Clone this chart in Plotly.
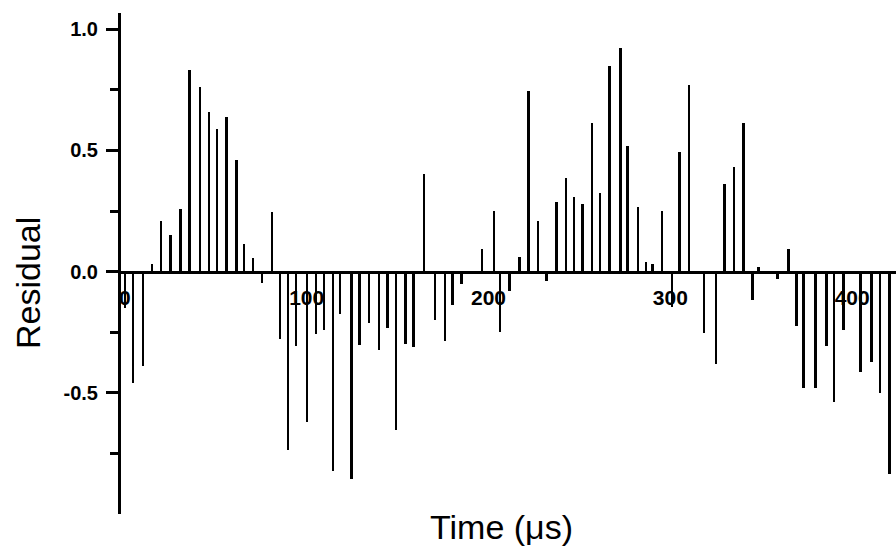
import plotly.graph_objects as go

# Time (µs) of each residual point
time_us = [0, 4.4, 9.9, 14.9, 20.0, 25.0, 30.6, 35.6, 41.3, 46.4, 50.8, 55.9, 61.4, 65.5,
           70.6, 75.4, 80.9, 85.4, 89.7, 94.2, 100.3, 105.2, 109.5, 114.4, 118.4, 124.6,
           129.0, 134.4, 139.7, 144.4, 149.2, 154.5, 158.7, 164.6, 170.6, 176.0, 180.2,
           185.3, 196.5, 202.9, 206.4, 211.5, 217.0, 222.1, 227.1, 232.0, 237.3, 242.5,
           247.1, 251.6, 256.8, 261.4, 266.5, 272.7, 276.4, 282.1, 286.6, 290.3, 295.3,
           300.8, 305.0, 310.3, 318.5, 325.1, 329.9, 334.9, 340.1, 345.3, 348.4, 359.0,
           364.9, 369.5, 373.3, 379.9, 386.0, 390.0, 395.3, 404.5, 410.5, 415.3, 420.6]

# Residual values
residual = [-0.15, -0.46, -0.39, 0.03, 0.21, 0.15, 0.26, 0.83, 0.76, 0.66, 0.59, 0.64, 0.46,
            0.115, 0.058, -0.045, 0.246, -0.276, -0.736, -0.306, -0.619, -0.259, -0.242,
            -0.822, -0.176, -0.857, -0.303, -0.21, -0.324, -0.232, -0.654, -0.297, -0.313,
            0.401, -0.2, -0.286, -0.139, -0.049, 0.095, 0.251, -0.251, -0.08, 0.059, 0.746,
            0.208, -0.04, 0.286, 0.385, 0.309, 0.28, 0.614, 0.323, 0.85, 0.922, 0.519, 0.267,
            0.039, 0.03, 0.249, -0.145, 0.492, 0.769, -0.253, -0.382, 0.363, 0.43, 0.615,
            -0.118, 0.02, -0.03, 0.092, -0.225, -0.479, -0.479, -0.306, -0.537, -0.242,
            -0.413, -0.372, -0.5, -0.835]

x_tick_vals = [0, 100, 200, 300, 400]
x_tick_text = ["0", "100", "200", "300", "400"]
y_tick_vals = [-0.5, 0.0, 0.5, 1.0]
y_tick_text = ["-0.5", "0.0", "0.5", "1.0"]
y_minor_vals = [-0.75, -0.25, 0.25, 0.75]

x_title = "Time (μs)"
y_title = "Residual"

x_range = [-2.1, 424.1]
y_range = [-1.0, 1.067]
zero_pos = (0 - y_range[0]) / (y_range[1] - y_range[0])

fig = go.Figure()
fig.add_trace(go.Bar(x=time_us, y=residual, width=1.4,
                     marker=dict(color="black", line=dict(width=0)),
                     showlegend=False, hoverinfo="x+y"))
# invisible companion trace so the zero-line axis (x2) gets drawn
fig.add_trace(go.Scatter(x=time_us, y=residual, xaxis="x2", yaxis="y", mode="markers",
                         marker=dict(opacity=0), showlegend=False, hoverinfo="skip"))

bold_y = dict(family="Liberation Sans, Arial, sans-serif", size=20, color="black", weight=700)
bold_x = dict(family="Liberation Sans, Arial, sans-serif", size=21, color="black", weight=700)
title_font = dict(family="Liberation Sans, Arial, sans-serif", size=34, color="black")

fig.update_layout(
    width=896, height=548, autosize=False,
    margin=dict(l=121, r=0, t=13, b=34),
    plot_bgcolor="white", paper_bgcolor="white",
    bargap=0,
    xaxis=dict(range=x_range, domain=[0, 1], anchor="y", showline=False, showgrid=False,
               zeroline=False, showticklabels=False, ticks=""),
    xaxis2=dict(range=x_range, overlaying="x", anchor="free", position=zero_pos, side="bottom",
                showline=True, linewidth=3, linecolor="black", showgrid=False, zeroline=False,
                tickmode="array", tickvals=x_tick_vals, ticktext=x_tick_text, ticks="",
                ticklabelstandoff=6, tickfont=bold_x),
    yaxis=dict(range=y_range, showline=True, linewidth=3, linecolor="black", showgrid=False,
               zeroline=False, tickmode="array", tickvals=y_tick_vals, ticktext=y_tick_text,
               ticks="outside", ticklen=12, tickwidth=2.5, tickcolor="black",
               ticklabelstandoff=4, tickfont=bold_y,
               minor=dict(tickmode="array", tickvals=y_minor_vals, ticks="outside",
                          ticklen=8, tickwidth=2.5, tickcolor="black")),
    annotations=[
        dict(text=x_title, xref="paper", yref="paper", x=0.4916, y=-0.025,
             xanchor="center", yanchor="middle", showarrow=False, font=title_font),
        dict(text=y_title, xref="paper", yref="paper", x=-0.12, y=0.461, textangle=-90,
             xanchor="center", yanchor="middle", showarrow=False, font=title_font),
    ],
)

fig.write_html("out.html")
